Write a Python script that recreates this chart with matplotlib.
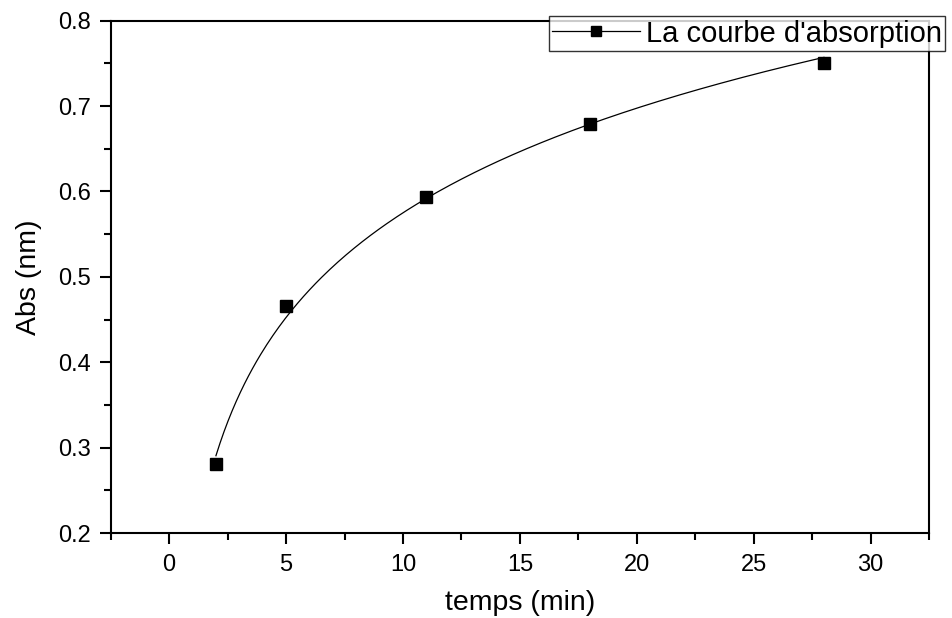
import numpy as np
import matplotlib.pyplot as plt
from matplotlib.ticker import MultipleLocator

# measured points
temps = np.array([2, 5, 11, 18, 28])
absorb = np.array([0.281, 0.466, 0.594, 0.679, 0.751])

plt.rcParams["font.family"] = ["Liberation Sans", "DejaVu Sans"]

fig = plt.figure(figsize=(9.52, 6.18), dpi=100)
ax = fig.add_axes([0.1163, 0.1375, 0.8597, 0.829])

# logarithmic fit of the points (y = a + b ln t)
b, a = np.polyfit(np.log(temps), absorb, 1)
t_fit = np.linspace(temps.min(), temps.max(), 300)
ax.plot(t_fit, a + b * np.log(t_fit), color="black", lw=0.9)
ax.plot(temps, absorb, "s", color="black", ms=9)

# legend handle: line with square marker
ax.plot([], [], "-s", color="black", lw=0.9, ms=7.5, label="La courbe d'absorption")
handles, labels = ax.get_legend_handles_labels()
leg = ax.legend(handles[-1:], labels[-1:], loc="upper right", bbox_to_anchor=(1.0195, 1.009),
                fontsize=21, frameon=True, fancybox=False, edgecolor="black",
                handlelength=3.0, borderpad=0.12, handletextpad=0.2, borderaxespad=0)
leg.get_frame().set_linewidth(1.0)

ax.set_xlim(-2.5, 32.5)
ax.set_ylim(0.2, 0.8)
ax.xaxis.set_major_locator(MultipleLocator(5))
ax.xaxis.set_minor_locator(MultipleLocator(2.5))
ax.yaxis.set_major_locator(MultipleLocator(0.1))
ax.yaxis.set_minor_locator(MultipleLocator(0.05))
ax.tick_params(which="major", direction="out", length=8, width=1.5, labelsize=17)
ax.tick_params(axis="x", which="major", pad=7)
ax.tick_params(axis="y", which="major", pad=6)
ax.tick_params(which="minor", direction="out", length=5, width=1.5)
for s in ax.spines.values():
    s.set_linewidth(1.5)

ax.set_xlabel("temps (min)", fontsize=20.5, labelpad=10)
ax.set_ylabel("Abs (nm)", fontsize=20.5, labelpad=12)

fig.savefig("out.png", dpi=100)
